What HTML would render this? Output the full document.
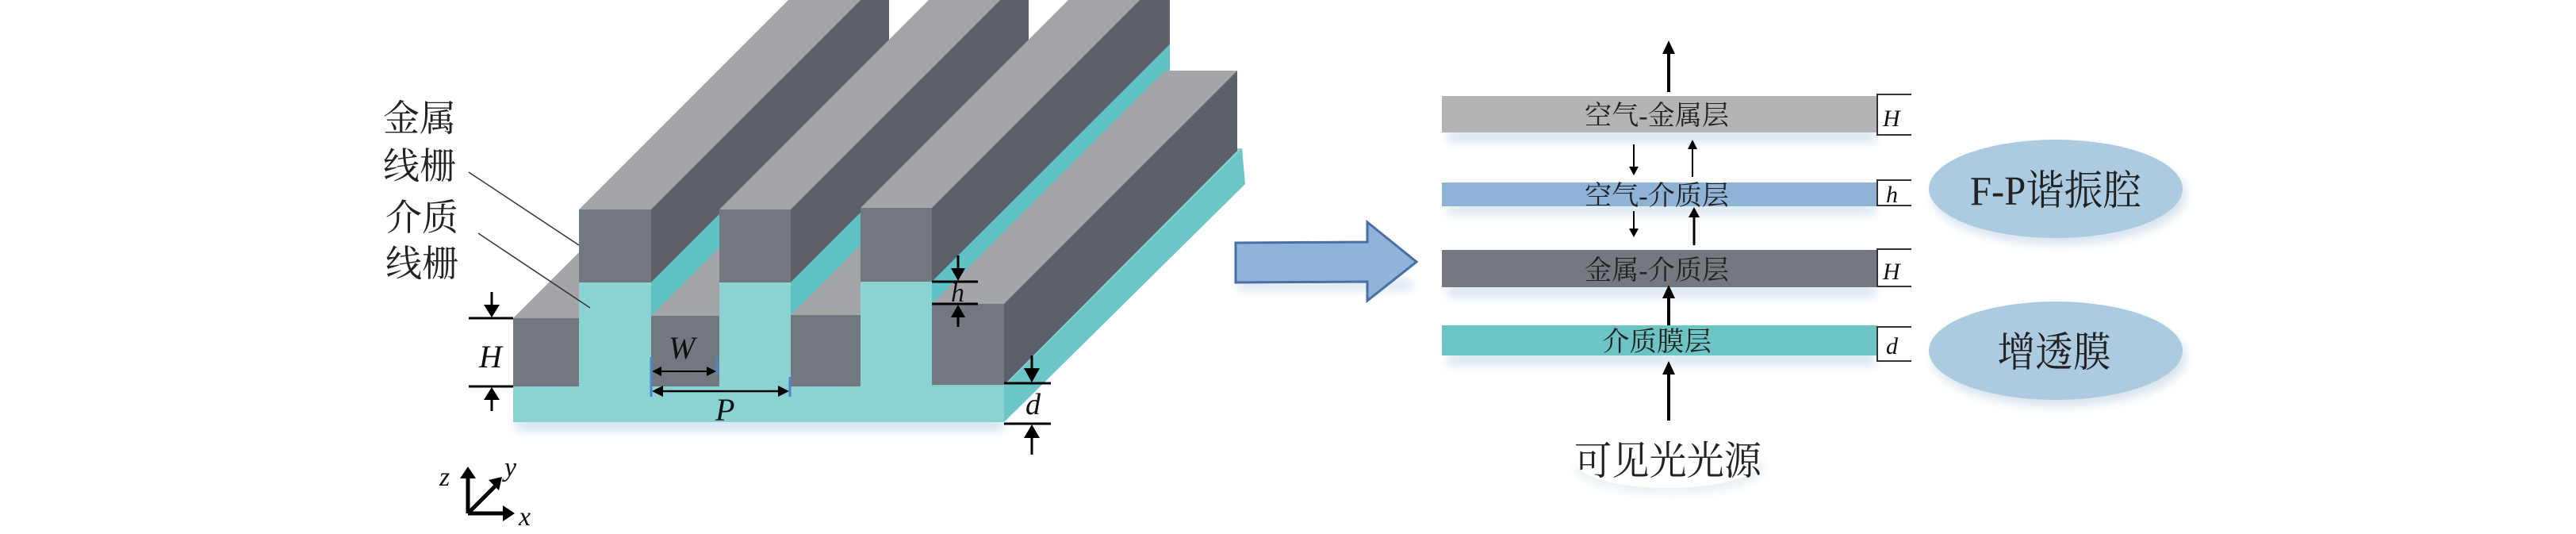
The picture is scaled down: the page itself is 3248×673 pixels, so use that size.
<!DOCTYPE html>
<html><head><meta charset="utf-8"><style>
html,body{margin:0;padding:0;background:#fff;}
svg{display:block;}
.cn{font-family:"Liberation Serif","Noto Serif CJK SC",serif;fill:#222;}
.it{font-family:"Liberation Serif",serif;font-style:italic;fill:#111;}
</style></head><body>
<svg width="3248" height="673" viewBox="0 0 3248 673" xmlns="http://www.w3.org/2000/svg">
<defs>
<filter id="sh" x="-10%" y="-30%" width="120%" height="180%"><feGaussianBlur stdDeviation="6"/></filter>
</defs>
<rect x="650" y="528" width="615" height="14" fill="#cfe0ef" filter="url(#sh)"/>
<polygon points="647,487 1266,487 1566,187 947,187" fill="#7fd0d0"/>
<polygon points="1266,487 1566,187 1570,232 1266,532" fill="#6cc6c8"/>
<rect x="647" y="487" width="619" height="45" fill="#8bd2d2"/>

<polygon points="647,401 730,401 1030,101 947,101" fill="#a4a5a8"/>
<rect x="647" y="401" width="83" height="86" fill="#737780"/>
<polygon points="730,264 821,264 1121,-36 1030,-36" fill="#a4a5a8"/>
<polygon points="821,264 1121,-36 1121,56 821,356" fill="#5c6068"/>
<polygon points="821,356 1121,56 1121,187 821,487" fill="#5fc3c6"/>
<rect x="730" y="264" width="91" height="92" fill="#737780"/>
<rect x="730" y="356" width="91" height="131" fill="#8bd2d2"/>
<polygon points="821,398 907,398 1207,98 1121,98" fill="#a4a5a8"/>
<rect x="821" y="398" width="86" height="89" fill="#737780"/>
<polygon points="907,264 997,264 1297,-36 1207,-36" fill="#a4a5a8"/>
<polygon points="997,264 1297,-36 1297,56 997,356" fill="#5c6068"/>
<polygon points="997,356 1297,56 1297,187 997,487" fill="#5fc3c6"/>
<rect x="907" y="264" width="90" height="92" fill="#737780"/>
<rect x="907" y="356" width="90" height="131" fill="#8bd2d2"/>
<polygon points="997,397 1085,397 1385,97 1297,97" fill="#a4a5a8"/>
<rect x="997" y="397" width="88" height="90" fill="#737780"/>
<polygon points="1085,262 1175,262 1475,-38 1385,-38" fill="#a4a5a8"/>
<polygon points="1175,262 1475,-38 1475,56 1175,355" fill="#5c6068"/>
<polygon points="1175,355 1475,56 1475,187 1175,487" fill="#5fc3c6"/>
<rect x="1085" y="262" width="90" height="93" fill="#737780"/>
<rect x="1085" y="355" width="90" height="132" fill="#8bd2d2"/>
<polygon points="1175,383 1266,383 1560,89 1469,89" fill="#a4a5a8"/>
<polygon points="1266,383 1560,89 1560,190 1266,485" fill="#5c6068"/>
<rect x="1175" y="383" width="91" height="102" fill="#737780"/>

<text class="cn" x="483" y="165" font-size="46" textLength="92" lengthAdjust="spacingAndGlyphs">金属</text>
<text class="cn" x="483" y="225" font-size="46" textLength="92" lengthAdjust="spacingAndGlyphs">线栅</text>
<text class="cn" x="486" y="290" font-size="46" textLength="92" lengthAdjust="spacingAndGlyphs">介质</text>
<text class="cn" x="486" y="348" font-size="46" textLength="92" lengthAdjust="spacingAndGlyphs">线栅</text>
<line x1="591" y1="217" x2="730" y2="309" stroke="#333" stroke-width="1.5"/>
<line x1="603" y1="294" x2="744" y2="388" stroke="#333" stroke-width="1.5"/>

<g stroke="#000" stroke-width="3" fill="#000">
<line x1="591" y1="401" x2="647" y2="401"/><line x1="591" y1="487" x2="647" y2="487"/>
<line x1="620" y1="368" x2="620" y2="386"/><polygon points="610,384 630,384 620,400" stroke="none"/>
<polygon points="610,504 630,504 620,488" stroke="none"/><line x1="620" y1="502" x2="620" y2="518"/>
<line x1="1175" y1="355" x2="1233" y2="355"/><line x1="1175" y1="383" x2="1233" y2="383"/>
<line x1="1208" y1="322" x2="1208" y2="340"/><polygon points="1199,338 1217,338 1208,354" stroke="none"/>
<polygon points="1199,400 1217,400 1208,384" stroke="none"/><line x1="1208" y1="398" x2="1208" y2="412"/>
<line x1="1266" y1="483" x2="1325" y2="483"/><line x1="1266" y1="534" x2="1325" y2="534"/>
<line x1="1301" y1="448" x2="1301" y2="466"/><polygon points="1291,464 1311,464 1301,482" stroke="none"/>
<polygon points="1291,552 1311,552 1301,535" stroke="none"/><line x1="1301" y1="550" x2="1301" y2="573"/>
<line x1="826" y1="468" x2="900" y2="468" stroke-width="2"/>
<polygon points="822,468 834,462 834,474" stroke="none"/><polygon points="903,468 891,462 891,474" stroke="none"/>
<line x1="826" y1="493" x2="991" y2="493" stroke-width="2.5"/>
<polygon points="822,493 836,486 836,500" stroke="none"/><polygon points="995,493 981,486 981,500" stroke="none"/>
</g>
<g stroke="#4f86c6" stroke-width="3">
<line x1="821" y1="450" x2="821" y2="500"/><line x1="904" y1="450" x2="904" y2="472"/><line x1="996" y1="475" x2="996" y2="500"/>
</g>
<text class="it" x="604" y="463" font-size="40">H</text>
<text class="it" x="843" y="452" font-size="40">W</text>
<text class="it" x="902" y="530" font-size="40">P</text>
<text class="it" x="1199" y="380" font-size="34">h</text>
<text class="it" x="1293" y="522" font-size="38">d</text>

<g stroke="#000" stroke-width="5" fill="#000">
<line x1="590" y1="647" x2="590" y2="600"/><polygon points="580,603 600,603 590,588" stroke="none"/>
<line x1="590" y1="647" x2="638" y2="647"/><polygon points="634,637 634,657 649,647" stroke="none"/>
<line x1="590" y1="647" x2="624" y2="613"/><polygon points="616,605 633,601 629,618" stroke="none"/>
</g>
<text class="it" x="554" y="612" font-size="34">z</text>
<text class="it" x="636" y="600" font-size="34">y</text>
<text class="it" x="654" y="662" font-size="34">x</text>

<rect x="1560" y="352" width="220" height="14" fill="#dbe6f2" filter="url(#sh)"/>
<polygon points="1558,306 1724,305 1724,280 1786,330 1724,379 1724,355 1558,356" fill="#8fb3d9" stroke="#4a6fa5" stroke-width="3"/>

<g fill="#d4e3f1" filter="url(#sh)">
<rect x="1825" y="165" width="540" height="14"/>
<rect x="1825" y="258" width="540" height="12"/>
<rect x="1825" y="360" width="540" height="14"/>
<rect x="1825" y="446" width="540" height="14"/>
</g>
<rect x="1818" y="121" width="549" height="46" fill="#b4b4b6"/>
<rect x="1818" y="230" width="549" height="30" fill="#8fb3d6"/>
<rect x="1818" y="315" width="549" height="47" fill="#75787f"/>
<rect x="1818" y="410" width="549" height="38" fill="#6cc4c4"/>
<g class="cn" font-size="34" text-anchor="middle">
<text x="2089" y="157" textLength="182" lengthAdjust="spacingAndGlyphs">空气-金属层</text>
<text x="2089" y="258" textLength="182" lengthAdjust="spacingAndGlyphs">空气-介质层</text>
<text x="2089" y="352" textLength="182" lengthAdjust="spacingAndGlyphs">金属-介质层</text>
<text x="2089" y="442" textLength="138" lengthAdjust="spacingAndGlyphs">介质膜层</text>
</g>
<g stroke="#333" stroke-width="2" fill="none">
<polyline points="2410,119 2367,119 2367,170 2410,170"/>
<polyline points="2410,227 2367,227 2367,259 2410,259"/>
<polyline points="2410,314 2367,314 2367,361 2410,361"/>
<polyline points="2410,412 2367,412 2367,455 2410,455"/>
</g>
<g class="it" font-size="30">
<text x="2374" y="159">H</text>
<text x="2378" y="255">h</text>
<text x="2374" y="352">H</text>
<text x="2378" y="446">d</text>
</g>
<g stroke="#000" fill="#000">
<line x1="2104" y1="116" x2="2104" y2="66" stroke-width="4"/><polygon points="2096,68 2112,68 2104,51" stroke="none"/>
<line x1="2060" y1="182" x2="2060" y2="212" stroke-width="2"/><polygon points="2054,210 2066,210 2060,221" stroke="none"/>
<line x1="2134" y1="223" x2="2134" y2="186" stroke-width="2"/><polygon points="2128,188 2140,188 2134,176" stroke="none"/>
<line x1="2060" y1="266" x2="2060" y2="290" stroke-width="2"/><polygon points="2054,288 2066,288 2060,299" stroke="none"/>
<line x1="2136" y1="309" x2="2136" y2="272" stroke-width="3"/><polygon points="2129,274 2143,274 2136,261" stroke="none"/>
<line x1="2104" y1="410" x2="2104" y2="374" stroke-width="4"/><polygon points="2096,376 2112,376 2104,359" stroke="none"/>
<line x1="2104" y1="530" x2="2104" y2="470" stroke-width="4"/><polygon points="2096,472 2112,472 2104,455" stroke="none"/>
</g>
<ellipse cx="2596" cy="246" rx="160" ry="62" fill="#d6e3ee" filter="url(#sh)"/>
<ellipse cx="2592" cy="238" rx="160" ry="62" fill="#adcbe0"/>
<ellipse cx="2596" cy="450" rx="160" ry="62" fill="#d6e3ee" filter="url(#sh)"/>
<ellipse cx="2592" cy="442" rx="160" ry="62" fill="#adcbe0"/>
<text class="cn" x="2592" y="258" font-size="52" text-anchor="middle" textLength="216" lengthAdjust="spacingAndGlyphs">F-P谐振腔</text>
<text class="cn" x="2590" y="462" font-size="52" text-anchor="middle" textLength="143" lengthAdjust="spacingAndGlyphs">增透膜</text>
<ellipse cx="2106" cy="590" rx="118" ry="32" fill="#e8eff6" filter="url(#sh)"/>
<ellipse cx="2103" cy="583" rx="115" ry="32" fill="#fff"/>
<text class="cn" x="2103" y="598" font-size="50" text-anchor="middle" textLength="236" lengthAdjust="spacingAndGlyphs">可见光光源</text>
</svg>
</body></html>
